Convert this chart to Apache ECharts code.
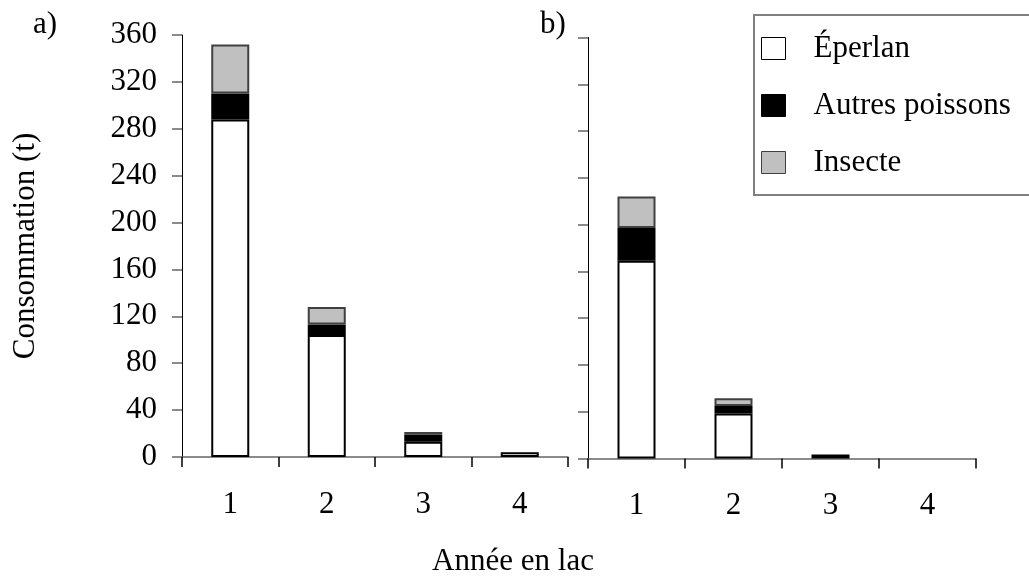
<!DOCTYPE html>
<html>
<head>
<meta charset="utf-8">
<script src="https://cdn.jsdelivr.net/npm/echarts@6/dist/echarts.min.js"></script>
<style>html,body{margin:0;padding:0;background:#fff}#c{width:1029px;height:578px}</style>
</head>
<body>
<div id="c"></div>
<script>
const categories = ['1', '2', '3', '4'];
const yTicks = [0, 40, 80, 120, 160, 200, 240, 280, 320, 360];
const seriesNames = ['Éperlan', 'Autres poissons', 'Insecte'];
// Panel a)
const eperlanA = [288, 104, 13, 4];
const autresA = [22, 9, 6, 0];
const insecteA = [42, 15, 2.3, 0];
// Panel b)
const eperlanB = [169, 38.5, 0, 0];
const autresB = [28, 6.5, 3.5, 0];
const insecteB = [27, 6.5, 0, 0];

const FONT = 'Liberation Serif';
const FS = 31;
const fills = ['#ffffff', '#000000', '#c0c0c0'];
const borders = ['#000000', '#000000', '#404040'];

const chart = echarts.init(document.getElementById('c'), null, {renderer: 'canvas'});

function yAxisCfg(gridIndex, showLabels) {
  return {
    type: 'value', gridIndex, min: yTicks[0], max: yTicks[yTicks.length - 1], interval: 40,
    axisLine: {show: true, lineStyle: {color: '#000', width: 1}},
    axisTick: {show: true, length: 10, inside: false, lineStyle: {color: '#666', width: 1.5}},
    axisLabel: {show: showLabels, fontFamily: FONT, fontSize: FS, color: '#000', margin: 25},
    splitLine: {show: false},
    name: showLabels ? 'Consommation (t)' : '',
    nameLocation: 'middle', nameRotate: 90, nameGap: 141,
    nameTextStyle: {fontFamily: FONT, fontSize: FS, color: '#000'}
  };
}
function xAxisCfg(gridIndex) {
  return {
    type: 'category', gridIndex, data: categories,
    axisLine: {show: true, lineStyle: {color: '#666', width: 1.5}},
    axisTick: {show: true, length: 10, lineStyle: {color: '#000', width: 1.5}},
    axisLabel: {fontFamily: FONT, fontSize: FS, color: '#000', margin: 32}
  };
}
const clean = arr => arr.map(v => v === 0 ? null : v);
function mk(name, data, idx, axisIdx, stack) {
  return {
    name, type: 'bar', stack, xAxisIndex: axisIdx, yAxisIndex: axisIdx,
    data: clean(data), barWidth: 38,
    itemStyle: {color: fills[idx], borderColor: borders[idx], borderWidth: 2},
    emphasis: {disabled: true}, animation: false
  };
}

chart.setOption({
  backgroundColor: '#fff',
  animation: false,
  grid: [
    {left: 182, top: 35, width: 386, height: 422, containLabel: false, outerBoundsMode: 'none'},
    {left: 588, top: 37.5, width: 388, height: 421, containLabel: false, outerBoundsMode: 'none'}
  ],
  xAxis: [xAxisCfg(0), xAxisCfg(1)],
  yAxis: [yAxisCfg(0, true), yAxisCfg(1, false)],
  legend: {
    orient: 'vertical', left: 761, top: 33, padding: 0,
    itemWidth: 24, itemHeight: 22, itemGap: 26,
    icon: 'rect',
    itemStyle: {borderWidth: 1},
    textStyle: {fontFamily: FONT, fontSize: FS, color: '#000', padding: [0, 0, 0, 23]},
    data: seriesNames
  },
  graphic: [
    {type: 'rect', shape: {x: 754, y: 15, width: 300, height: 180}, style: {fill: 'none', stroke: '#808080', lineWidth: 2}, z: 0},
    {type: 'text', left: 33, top: 9, style: {text: 'a)', font: FS + 'px "' + FONT + '"', fill: '#000'}},
    {type: 'text', left: 540, top: 9, style: {text: 'b)', font: FS + 'px "' + FONT + '"', fill: '#000'}},
    {type: 'text', x: 513, y: 562, style: {text: 'Année en lac', font: FS + 'px "' + FONT + '"', fill: '#000', align: 'center', verticalAlign: 'middle'}}
  ],
  series: [
    mk(seriesNames[0], eperlanA, 0, 0, 'a'),
    mk(seriesNames[1], autresA, 1, 0, 'a'),
    mk(seriesNames[2], insecteA, 2, 0, 'a'),
    mk(seriesNames[0], eperlanB, 0, 1, 'b'),
    mk(seriesNames[1], autresB, 1, 1, 'b'),
    mk(seriesNames[2], insecteB, 2, 1, 'b')
  ]
});
</script>
</body>
</html>
